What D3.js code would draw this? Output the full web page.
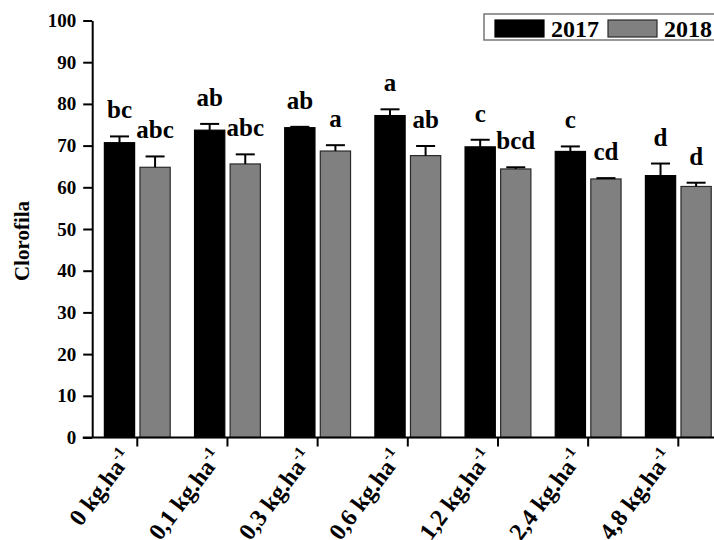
<!DOCTYPE html>
<html><head><meta charset="utf-8">
<script src="https://cdn.jsdelivr.net/npm/d3@7"></script>
<style>
html,body{margin:0;padding:0;background:#fff;}
svg text{font-family:"Liberation Serif","Tinos","Times New Roman","DejaVu Serif",serif !important;font-weight:bold;fill:#000;}
</style></head>
<body><svg id="c" width="714" height="540"></svg>
<script>
const categories = ["0", "0,1", "0,3", "0,6", "1,2", "2,4", "4,8"];
const series = ["2017", "2018"];
const values2017 = [70.7, 73.7, 74.3, 77.2, 69.7, 68.6, 62.8];
const values2018 = [64.8, 65.6, 68.7, 67.6, 64.4, 62.0, 60.2];
const err2017 = [1.5, 1.5, 0.2, 1.5, 1.7, 1.2, 2.9];
const err2018 = [2.6, 2.3, 1.4, 2.3, 0.4, 0.2, 0.9];
const letters2017 = ["bc", "ab", "ab", "a", "c", "c", "d"];
const letters2018 = ["abc", "abc", "a", "ab", "bcd", "cd", "d"];
const yTicks = [0, 10, 20, 30, 40, 50, 60, 70, 80, 90, 100];
const yLabel = "Clorofila";
const unitText = " kg.ha";
const unitSup = "-1";

const FONT = '"Liberation Serif", Tinos, "Times New Roman", "DejaVu Serif", serif';
const colors = {"2017": "#000000", "2018": "#808080"};
const strokes = {"2017": "#000000", "2018": "#2a2a2a"};

const svg = d3.select("#c");
svg.append("rect").attr("width", 714).attr("height", 540).attr("fill", "#fff");

const x0 = d3.scaleBand().domain(categories).range([92.2, 723.4])
  .paddingInner(0.27).paddingOuter(0.135);
const x1 = d3.scaleBand().domain(series).range([0, x0.bandwidth()]).paddingInner(0.15);
const y = d3.scaleLinear().domain([0, 100]).range([437.5, 20.5]);

const rows = [];
categories.forEach((c, i) => {
  rows.push({cat: c, s: "2017", v: values2017[i], e: err2017[i], l: letters2017[i]});
  rows.push({cat: c, s: "2018", v: values2018[i], e: err2018[i], l: letters2018[i]});
});

svg.append("g").selectAll("rect").data(rows).join("rect")
  .attr("x", d => x0(d.cat) + x1(d.s))
  .attr("y", d => y(d.v))
  .attr("width", x1.bandwidth())
  .attr("height", d => y(0) - y(d.v))
  .attr("fill", d => colors[d.s])
  .attr("stroke", d => strokes[d.s])
  .attr("stroke-width", 1.2);

const eg = svg.append("g").attr("stroke", "#000").attr("stroke-width", 2);
rows.forEach(d => {
  const cx = x0(d.cat) + x1(d.s) + x1.bandwidth() / 2;
  eg.append("line").attr("x1", cx).attr("x2", cx).attr("y1", y(d.v)).attr("y2", y(d.v + d.e));
  eg.append("line").attr("x1", cx - 9.5).attr("x2", cx + 9.5).attr("y1", y(d.v + d.e)).attr("y2", y(d.v + d.e));
});

svg.append("g").selectAll("text").data(rows).join("text")
  .attr("x", d => x0(d.cat) + x1(d.s) + x1.bandwidth() / 2)
  .attr("y", d => y(d.v + d.e) - 18)
  .attr("text-anchor", "middle")
  .attr("font-family", FONT)
  .attr("font-size", 25)
  .text(d => d.l);

const yAxis = svg.append("g").attr("transform", "translate(92.2,0)")
  .call(d3.axisLeft(y).tickValues(yTicks).tickSize(9).tickSizeOuter(0).tickPadding(7));
yAxis.attr("font-family", FONT);
yAxis.select(".domain").attr("stroke", "#000").attr("stroke-width", 2);
yAxis.selectAll(".tick line").attr("stroke", "#000").attr("stroke-width", 2);
yAxis.selectAll(".tick text").attr("font-size", 19).attr("font-family", FONT)
  .attr("font-weight", "bold").attr("fill", "#000");

const xAxis = svg.append("g").attr("transform", `translate(0,${y(0)})`)
  .call(d3.axisBottom(x0).tickSize(9).tickSizeOuter(0).tickFormat(""));
xAxis.select(".domain").remove();
xAxis.selectAll(".tick line").attr("stroke", "#000").attr("stroke-width", 2);
svg.append("line").attr("x1", 82.7).attr("x2", 714).attr("y1", y(0)).attr("y2", y(0))
  .attr("stroke", "#000").attr("stroke-width", 2);

const xl = svg.append("g").selectAll("text").data(categories).join("text")
  .attr("text-anchor", "end")
  .attr("font-family", FONT)
  .attr("font-size", 24)
  .attr("transform", d => `translate(${x0(d) + x0.bandwidth() / 2 - 4},${y(0) + 20}) rotate(-53)`);
xl.append("tspan").text(d => d + unitText);
xl.append("tspan").attr("font-size", 15).attr("dy", -10).text(unitSup);

svg.append("text").attr("transform", "translate(29,241) rotate(-90)")
  .attr("text-anchor", "middle").attr("font-family", FONT).attr("font-size", 21).text(yLabel);

const lg = svg.append("g");
lg.append("rect").attr("x", 484).attr("y", 14).attr("width", 240).attr("height", 26)
  .attr("fill", "#fff").attr("stroke", "#777").attr("stroke-width", 1.5);
const legendX = d3.scaleOrdinal().domain(series).range([495, 608]);
series.forEach(s => {
  lg.append("rect").attr("x", legendX(s)).attr("y", 20).attr("width", 49).attr("height", 17)
    .attr("fill", colors[s]).attr("stroke", strokes[s]).attr("stroke-width", 1.2);
  lg.append("text").attr("x", legendX(s) + 56).attr("y", 36.5).attr("font-family", FONT)
    .attr("font-size", 24).text(s);
});
</script></body></html>
